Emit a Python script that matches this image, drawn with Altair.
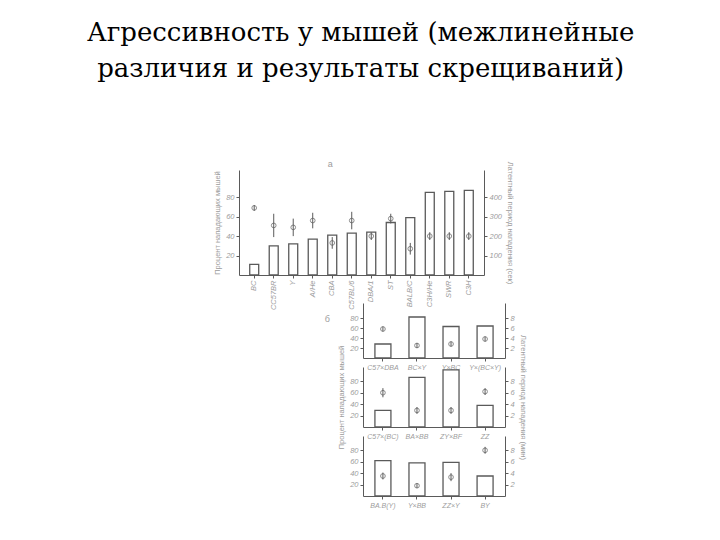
import altair as alt
import pandas as pd

# ---------------- data ----------------
TITLE_LINES = ["Агрессивность у мышей (межлинейные", "различия и результаты скрещиваний)"]

top_strains = ["BC", "CC57BR", "Y", "A/He", "CBA", "C57BL/6", "DBA/1", "ST",
               "BALB/C", "C3H/He", "SWR", "C3H"]
top_attack = [11, 30, 32, 37, 41, 43, 44, 54, 59, 85, 86, 87]
top_latency = [345, 255, 245, 280, 165, 280, 200, 290, 135, 200, 200, 200]
top_latency_err = [15, 60, 45, 40, 30, 45, 20, 25, 30, 20, 20, 20]
top_left_ticks = [20, 40, 60, 80]
top_right_ticks = [100, 200, 300, 400]

row1_labels = ["C57×DBA", "BC×Y", "Y×BC", "Y×(BC×Y)"]
row1_attack = [28, 82, 63, 64]
row1_latency = [5.8, 2.5, 2.8, 3.8]
row1_err = [0.5, 0.5, 0.5, 0.5]

row2_labels = ["C57×(BC)", "BA×BB", "ZY×BF", "ZZ"]
row2_attack = [29, 87, 100, 38]
row2_latency = [6.0, 2.9, 2.9, 6.2]
row2_err = [0.8, 0.6, 0.6, 0.6]

row3_labels = ["BA.B(Y)", "Y×BB", "ZZ×Y", "BY"]
row3_attack = [62, 58, 59, 35]
row3_latency = [3.5, 1.8, 3.3, 8.0]
row3_err = [0.6, 0.4, 0.7, 0.6]

row_left_ticks = [20, 40, 60, 80]
row_right_ticks = [2, 4, 6, 8]

LEFT_TITLE = "Процент нападающих мышей"
RIGHT_TITLE_TOP = "Латентный период нападения (сек)"
RIGHT_TITLE_BOTTOM = "Латентный период нападения (мин)"

# ---------------- style ----------------
LINE = "#5a5a5a"
TEXT = "#9c9c9c"
FONT = "Liberation Sans"
SERIF = "DejaVu Serif"


def panel(labels, attack, latency, err, width, height, ydom, yticks, y2dom, y2ticks,
          ytitle, y2title, angle, pin, pout, label_size=7.5):
    df = pd.DataFrame({
        "label": labels,
        "attack": attack,
        "lat": latency,
        "lo": [a - b for a, b in zip(latency, err)],
        "hi": [a + b for a, b in zip(latency, err)],
    })
    base = alt.Chart(df)
    xenc = alt.X("label:N", sort=labels,
                 scale=alt.Scale(paddingInner=pin, paddingOuter=pout),
                 axis=alt.Axis(title=None, labelAngle=angle, labelFontSize=label_size,
                               labelFontStyle="italic", labelColor=TEXT, labelFont=FONT,
                               labelPadding=2, tickSize=3, labelOverlap=False,
                               domainColor=LINE, tickColor=LINE))
    bars = base.mark_bar(fill="white", stroke=LINE, strokeWidth=1.3).encode(
        x=xenc,
        y=alt.Y("attack:Q", scale=alt.Scale(domain=ydom, nice=False, zero=True),
                axis=alt.Axis(values=yticks, title=ytitle, orient="left", grid=False,
                              labelFontSize=7.5, labelFontStyle="italic", labelColor=TEXT,
                              labelFont=FONT, titleFontSize=7.5, titleColor=TEXT,
                              titleFont=FONT, titleFontWeight="normal", titlePadding=4,
                              tickSize=3, domainColor=LINE, tickColor=LINE)),
    )
    rules = base.mark_rule(color=LINE, strokeWidth=1).encode(
        x=alt.X("label:N", sort=labels),
        y=alt.Y("lo:Q", scale=alt.Scale(domain=y2dom, nice=False, zero=True),
                axis=alt.Axis(values=y2ticks, title=y2title, orient="right", grid=False,
                              labelFontSize=7.5, labelFontStyle="italic", labelColor=TEXT,
                              labelFont=FONT, titleFontSize=7.5, titleColor=TEXT,
                              titleFont=FONT, titleFontWeight="normal", titlePadding=4,
                              tickSize=3, domainColor=LINE, tickColor=LINE)),
        y2="hi:Q",
    )
    pts = base.mark_point(shape="circle", filled=False, stroke=LINE, strokeWidth=1,
                          size=22).encode(
        x=alt.X("label:N", sort=labels),
        y=alt.Y("lat:Q", scale=alt.Scale(domain=y2dom, nice=False, zero=True), axis=None),
    )
    return alt.layer(bars, rules, pts).resolve_scale(y="independent").properties(
        width=width, height=height)


top = panel(top_strains, top_attack, top_latency, top_latency_err, 245, 105,
            [0, 108], top_left_ticks, [0, 540], top_right_ticks,
            LEFT_TITLE, RIGHT_TITLE_TOP, -90, 0.54, 0.55).properties(
    title=alt.TitleParams("а", anchor="start", dx=114, fontSize=9, color=TEXT,
                          fontWeight="normal", font=FONT, offset=-8))

r1 = panel(row1_labels, row1_attack, row1_latency, row1_err, 142, 55,
           [0, 110], row_left_ticks, [0, 11], row_right_ticks, "", "", 0, 0.53, 0.35, 7)
r2 = panel(row2_labels, row2_attack, row2_latency, row2_err, 142, 60,
           [0, 105], row_left_ticks, [0, 10.5], row_right_ticks,
           LEFT_TITLE, RIGHT_TITLE_BOTTOM, 0, 0.53, 0.35, 7)
r3 = panel(row3_labels, row3_attack, row3_latency, row3_err, 142, 60,
           [0, 105], row_left_ticks, [0, 10.5], row_right_ticks, "", "", 0, 0.53, 0.35, 7)

spacer = alt.Chart(pd.DataFrame({"t": [""]})).mark_text().encode(
    text="t:N").properties(
    width=124, height=5,
    title=alt.TitleParams("б", orient="bottom", anchor="end", fontSize=9, color=TEXT,
                          fontWeight="normal", font=FONT, offset=4, dx=-33))

rows = alt.vconcat(r1, r2, r3, spacing=9, bounds="flush")
bottom = alt.hconcat(spacer, rows, spacing=0, bounds="flush")

chart = alt.vconcat(top, bottom, spacing=28, bounds="flush").properties(
    padding={"left": 78, "top": 12, "right": 5, "bottom": 5},
    title=alt.TitleParams(TITLE_LINES, fontSize=26, font=SERIF,
                          fontWeight="normal", color="black", anchor="start",
                          align="center", lineHeight=36, offset=78, dx=147),
).configure_view(stroke=None)

chart.save("out.html", embed_options={"renderer": "svg", "actions": False})
